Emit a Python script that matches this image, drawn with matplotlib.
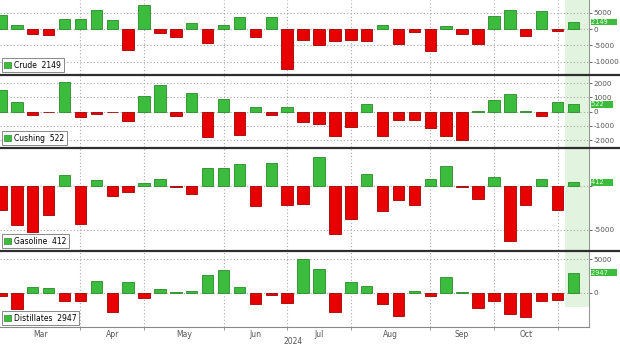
import matplotlib.pyplot as plt
import numpy as np
import pandas as pd
from matplotlib.patches import Patch
from matplotlib.lines import Line2D

# weekly changes (thousand barrels), Bloomberg-style weekly axis
weeks = pd.date_range('2024-03-01', periods=37, freq='7D')

crude = [4199, 1367, -1536, -1952, 3165, 3210, 5841, 2735, -6368, 7265,
         -1362, -2508, 1825, -4156, 1233, 3730, -2547, 3591, -12157, -3443,
         -4870, -3741, -3436, -3728, 1357, -4649, -846, -6873, 833, -1630,
         -4471, 3889, 5810, -2191, 5474, -515, 2149]
cushing = [1500, 700, -200, -30, 2100, -350, -150, -40, -650, 1100,
           1900, -300, 1300, -1750, 900, -1600, 300, -200, 350, -700,
           -850, -1700, -1100, 570, -1700, -550, -600, -1150, -1700, -2000,
           50, 800, 1250, 80, -300, 650, 522]
gasoline = [-2700, -4400, -5200, -3300, 1250, -4300, 700, -1200, -700, 300,
            800, -150, -900, 2000, 2000, 2500, -2300, 2600, -2200, -2000,
            3300, -5500, -3700, 1300, -2900, -1600, -2200, 800, 2300, -70,
            -1500, 1000, -6200, -2200, 800, -2700, 412]
distillates = [-500, -2400, 850, 600, -1250, -1300, 1700, -2850, 1600, -800,
               500, 80, 300, 2600, 3300, 850, -1750, -400, -1600, 5000,
               3500, -2850, 1500, 950, -1750, -3500, 250, -450, 2300, 100,
               -2300, -1300, -3200, -3700, -1200, -1100, 2947]

names = ['Crude', 'Cushing', 'Gasoline', 'Distillates']
series = [crude, cushing, gasoline, distillates]
ylims = [(-13800, 8900), (-2470, 2570), (-7270, 4300), (-5150, 6200)]
yticks = [[-10000, -5000, 0, 5000], [-2000, -1000, 0, 1000, 2000],
          [-5000, 0], [0, 5000]]
ylabels = [['-10000', '-5000', '0', '5000'], ['-2000', '-1000', '0', '1000', '2000'],
           ['-5000', ''], ['0', '5000']]
# panel top / bottom in pixels
rows = [(0, 74), (75, 147), (148, 250), (251, 327)]
seps = [74.5, 147.5, 250.5]

GREEN = '#3cbc3c'
GREEN_E = '#2a8a2a'
RED = '#e80000'
RED_E = '#a00000'

W, H = 620, 347
fig = plt.figure(figsize=(W / 100, H / 100), dpi=100)

x = np.arange(len(weeks))
month_starts = [i for i in range(1, len(weeks)) if weeks[i].month != weeks[i - 1].month]
bounds = [0] + month_starts
label_pos = [(bounds[k] + bounds[k + 1]) / 2 for k in range(len(bounds) - 1)]
label_txt = [weeks[bounds[k]].strftime('%b') for k in range(len(bounds) - 1)]

for n, (name, vals, yl, yt, ylab, (top, bot)) in enumerate(
        zip(names, series, ylims, yticks, ylabels, rows)):
    ax = fig.add_axes([0, 1 - bot / H, 589 / W, (bot - top) / H])
    vals = np.array(vals)
    cols = [GREEN if v >= 0 else RED for v in vals]
    edges = [GREEN_E if v >= 0 else RED_E for v in vals]
    ax.bar(x, vals, width=0.72, color=cols, edgecolor=edges, linewidth=0.6, zorder=3)
    ax.axvspan(35.5, 37.2, ymin=0.26 if n == 3 else 0, color='#e2f3df', zorder=1, lw=0)
    ax.set_xlim(-0.06, 36.98)
    ax.set_ylim(*yl)
    ax.set_yticks(yt)
    ax.set_yticklabels(ylab)
    ax.yaxis.tick_right()
    ax.tick_params(axis='y', labelsize=5.2, colors='#555555', length=2, pad=1, width=0.6)
    ax.set_xticks(month_starts)
    ax.set_xticks(label_pos, minor=True)
    ax.grid(True, which='major', ls=(0, (1, 2)), color='#a8a8a8', lw=0.8, zorder=0)
    ax.tick_params(axis='x', which='minor', length=0)
    ax.tick_params(axis='x', which='major', length=2, colors='#888888', width=0.6)
    if n == 3:
        ax.set_xticklabels([], minor=False)
        ax.set_xticklabels(label_txt, minor=True)
        ax.tick_params(axis='x', which='minor', labelsize=5.5, labelcolor='#555555', pad=2)
        ax.spines['bottom'].set_color('#888888')
        ax.spines['bottom'].set_linewidth(0.8)
    else:
        ax.set_xticklabels([])
        ax.set_xticklabels([], minor=True)
        ax.spines['bottom'].set_visible(False)
    ax.spines['top'].set_visible(False)
    ax.spines['left'].set_visible(False)
    ax.spines['right'].set_color('#999999')
    ax.spines['right'].set_linewidth(0.8)

    last = vals[-1]
    leg = ax.legend([Patch(fc=GREEN, ec=GREEN_E, lw=0.5)], [f'{name}  {last}'],
                    loc='lower left', bbox_to_anchor=(0.0, 0.0), fontsize=5.5,
                    frameon=True, fancybox=False, edgecolor='#888888',
                    handlelength=0.9, handleheight=0.9, handletextpad=0.4,
                    borderpad=0.35, borderaxespad=0.2, framealpha=1)
    leg.get_frame().set_linewidth(0.7)
    leg.set_zorder(6)
    ax.annotate(f'{last}    ', xy=(1, last), xycoords=('axes fraction', 'data'),
                xytext=(1.5, 0), textcoords='offset points', ha='left', va='center',
                fontsize=4.8, color='#e8ffe8', annotation_clip=False, zorder=10,
                bbox=dict(boxstyle='square,pad=0.05', fc=GREEN, ec='none'))

for y in seps:
    fig.add_artist(Line2D([0, 1], [1 - y / H] * 2, color='#2e2e2e', lw=1.6))

fig.text(293 / W, 1 - 341 / H, '2024', ha='center', va='center', fontsize=5.5, color='#555555')

fig.savefig('out.png', dpi=100)
